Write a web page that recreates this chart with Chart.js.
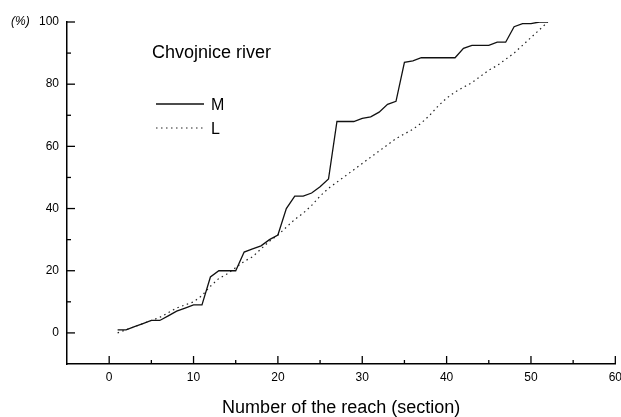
<!DOCTYPE html>
<html>
<head>
<meta charset="utf-8">
<title>Chvojnice river</title>
<script src="https://cdn.jsdelivr.net/npm/chart.js@4.4.1/dist/chart.umd.min.js"></script>
<style>
  html, body { margin: 0; padding: 0; background: #fff; overflow: hidden; }
  #wrap { width: 621px; height: 417px; overflow: hidden; }
  canvas { display: block; }
</style>
</head>
<body>
<div id="wrap"><canvas id="chart" width="628" height="417"></canvas></div>
<script>
// reach numbers (sections) along the river
const reach = [
   1,  2,  3,  4,  5,  6,  7,  8,  9, 10, 11, 12, 13,
  14, 15, 16, 17, 18, 19, 20, 21, 22, 23, 24, 25, 26,
  27, 28, 29, 30, 31, 32, 33, 34, 35, 36, 37, 38, 39,
  40, 41, 42, 43, 44, 45, 46, 47, 48, 49, 50, 51, 52
];
// cumulative percentages
const seriesM = [
   1,  1,  2,  3,  4,  4, 5.5,  7,  8,  9,  9, 18, 20,
  20, 20, 26, 27, 28, 30, 31.5, 40, 44, 44, 45, 47, 49.5,
  68, 68, 68, 69, 69.5, 71, 73.5, 74.5, 87, 87.5, 88.5, 88.5, 88.5,
  88.5, 88.5, 91.5, 92.5, 92.5, 92.5, 93.5, 93.5, 98.5, 99.5, 99.5, 100, 100
];
const seriesL = [
   0,  1,  2,  3,  4,  5, 6.5,  8,  9, 10, 12, 15, 17.5,
  19, 21, 23, 24.5, 27, 29.5, 31.5, 34, 36.5, 38.5, 41, 44, 46.5,
  48.5, 50.5, 52.5, 54.5, 56.5, 58.5, 60.5, 62.5, 64, 65.5, 67.5, 70, 73,
  75.5, 77.5, 79, 80.5, 82.5, 84.5, 86, 88, 90, 92.5, 95, 97.5, 100
];
const xTicks = [0, 10, 20, 30, 40, 50, 60];
const yTicks = [0, 20, 40, 60, 80, 100];
const seriesNames = ['M', 'L'];

const FONT = '"Liberation Sans", Arial, Helvetica, sans-serif';

const toPoints = (vals) => vals.map((v, i) => ({ x: reach[i], y: v }));

// tick marks pointing into the plot, majors and minors
const innerTicks = {
  id: 'innerTicks',
  afterDraw(chart) {
    const { ctx, scales: { x, y } } = chart;
    ctx.save();
    ctx.strokeStyle = '#000';
    ctx.lineWidth = 1.3;
    const mark = (x1, y1, x2, y2) => {
      ctx.beginPath(); ctx.moveTo(x1, y1); ctx.lineTo(x2, y2); ctx.stroke();
    };
    const xStep = xTicks[1] - xTicks[0];
    xTicks.forEach(v => {
      const px = x.getPixelForValue(v);
      mark(px, y.bottom, px, y.bottom - 8);
      if (v + xStep / 2 <= x.max) {
        const pm = x.getPixelForValue(v + xStep / 2);
        mark(pm, y.bottom, pm, y.bottom - 4);
      }
    });
    const yStep = yTicks[1] - yTicks[0];
    yTicks.forEach(v => {
      const py = y.getPixelForValue(v);
      mark(x.left, py, x.left + 8, py);
      if (v + yStep / 2 <= y.max) {
        const pm = y.getPixelForValue(v + yStep / 2);
        mark(x.left, pm, x.left + 4, pm);
      }
    });
    ctx.restore();
  }
};

// caption, legend and the (%) unit
const annotations = {
  id: 'annotations',
  afterDraw(chart) {
    const { ctx, scales: { y } } = chart;
    const ds = chart.data.datasets;
    ctx.save();
    ctx.fillStyle = '#000';
    ctx.textBaseline = 'alphabetic';
    ctx.font = '18px ' + FONT;
    ctx.fillText('Chvojnice river', 152, 58);

    ctx.font = '16px ' + FONT;
    const rows = [104, 128];
    ds.forEach((d, i) => {
      ctx.strokeStyle = d.borderColor;
      ctx.lineWidth = d.borderWidth;
      ctx.setLineDash(d.borderDash || []);
      ctx.beginPath();
      ctx.moveTo(156, rows[i]);
      ctx.lineTo(204, rows[i]);
      ctx.stroke();
      ctx.setLineDash([]);
      ctx.fillText(d.label, 211, rows[i] + 6);
    });

    ctx.font = 'italic 12px ' + FONT;
    ctx.textBaseline = 'middle';
    ctx.fillText('(%)', 11, y.getPixelForValue(100));
    ctx.restore();
  }
};

new Chart(document.getElementById('chart'), {
  type: 'line',
  data: {
    datasets: [
      {
        label: seriesNames[0],
        data: toPoints(seriesM),
        borderColor: '#111',
        borderWidth: 1.3,
        pointRadius: 0,
        tension: 0,
        fill: false
      },
      {
        label: seriesNames[1],
        data: toPoints(seriesL),
        borderColor: '#222',
        borderWidth: 1.2,
        borderDash: [1.5, 3.5],
        pointRadius: 0,
        tension: 0,
        fill: false
      }
    ]
  },
  options: {
    responsive: false,
    animation: false,
    events: [],
    layout: { padding: { top: 22, right: 9, left: 0, bottom: 0 } },
    plugins: {
      legend: { display: false },
      tooltip: { enabled: false }
    },
    scales: {
      x: {
        type: 'linear',
        min: -5,
        max: 60,
        afterBuildTicks: (scale) => { scale.ticks = xTicks.map(v => ({ value: v })); },
        afterFit: (scale) => { scale.height = 53; },
        grid: { display: true, drawOnChartArea: false, drawTicks: false },
        border: { display: true, color: '#000', width: 1.5 },
        ticks: {
          padding: 6,
          maxRotation: 0,
          color: '#000',
          font: { family: FONT, size: 12 }
        },
        title: {
          display: true,
          text: 'Number of the reach (section)',
          color: '#000',
          font: { family: FONT, size: 18 },
          padding: { top: 0, bottom: -2 }
        }
      },
      y: {
        type: 'linear',
        min: -10,
        max: 100,
        afterBuildTicks: (scale) => { scale.ticks = yTicks.map(v => ({ value: v })); },
        afterFit: (scale) => { scale.width = 67; },
        grid: { display: true, drawOnChartArea: false, drawTicks: false },
        border: { display: true, color: '#000', width: 1.5 },
        ticks: {
          padding: 8,
          color: '#000',
          font: { family: FONT, size: 12 }
        }
      }
    }
  },
  plugins: [innerTicks, annotations]
});
</script>
</body>
</html>
